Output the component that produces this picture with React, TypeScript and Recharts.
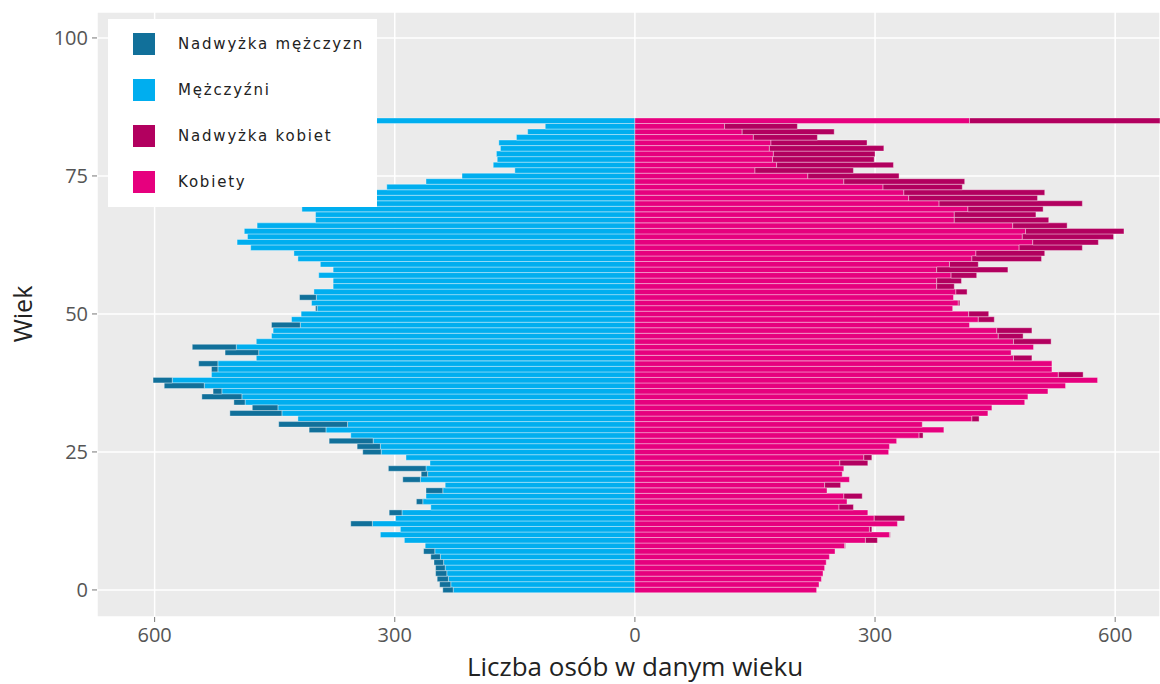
import { BarChart, Bar, XAxis, YAxis, CartesianGrid, Legend, Label } from "recharts"

// wiek 0..85 (ostatni słupek = 85+)
const AGES = [
  0, 1, 2, 3, 4, 5, 6, 7, 8, 9,
  10, 11, 12, 13, 14, 15, 16, 17, 18, 19,
  20, 21, 22, 23, 24, 25, 26, 27, 28, 29,
  30, 31, 32, 33, 34, 35, 36, 37, 38, 39,
  40, 41, 42, 43, 44, 45, 46, 47, 48, 49,
  50, 51, 52, 53, 54, 55, 56, 57, 58, 59,
  60, 61, 62, 63, 64, 65, 66, 67, 68, 69,
  70, 71, 72, 73, 74, 75, 76, 77, 78, 79,
  80, 81, 82, 83, 84, 85,
]

const MEN = [
  240, 244, 247, 249, 249, 251, 255, 264, 262, 288,
  318, 293, 355, 299, 307, 255, 273, 261, 261, 237,
  290, 267, 308, 256, 286, 340, 347, 382, 355, 407,
  445, 421, 506, 478, 501, 541, 527, 588, 602, 529,
  529, 545, 473, 512, 553, 473, 454, 452, 454, 429,
  417, 399, 404, 419, 401, 377, 377, 395, 377, 393,
  421, 426, 480, 497, 484, 488, 472, 399, 399, 416,
  380, 342, 336, 310, 261, 216, 150, 177, 172, 173,
  168, 170, 148, 134, 112, 418,
]

const WOMEN = [
  227, 230, 233, 235, 237, 239, 243, 250, 263, 303,
  319, 296, 328, 337, 291, 273, 265, 284, 240, 257,
  268, 259, 261, 291, 296, 317, 318, 327, 360, 386,
  359, 430, 441, 446, 487, 491, 516, 538, 578, 560,
  521, 521, 496, 470, 498, 520, 485, 496, 418, 449,
  442, 397, 406, 398, 415, 399, 408, 427, 466, 429,
  508, 512, 559, 579, 598, 611, 540, 517, 501, 510,
  559, 503, 512, 409, 412, 330, 273, 323, 299, 300,
  311, 290, 228, 249, 203, 700,
]

const X_TICKS = [-600, -300, 0, 300, 600]
const Y_TICKS = [0, 25, 50, 75, 100]

const COLORS = {
  menExtra: "#11709a",
  men: "#00aeef",
  womenExtra: "#b2005f",
  women: "#e6007e",
}

const LEGEND_ITEMS = [
  { name: "Nadwyżka mężczyzn", color: COLORS.menExtra },
  { name: "Mężczyźni", color: COLORS.men },
  { name: "Nadwyżka kobiet", color: COLORS.womenExtra },
  { name: "Kobiety", color: COLORS.women },
]

const data = AGES.map((age, i) => {
  const base = Math.min(MEN[i], WOMEN[i])
  return {
    age,
    menBase: -base,
    menExtra: -(MEN[i] - base),
    womenBase: base,
    womenExtra: WOMEN[i] - base,
  }
})

const tickStyle = { fill: "#555", fontSize: 20, fontFamily: "Open Sans" }

function LegendBox() {
  return (
    <div style={{ background: "#fff", width: 269, height: 188, position: "relative" }}>
      {LEGEND_ITEMS.map((item, i) => (
        <div
          key={item.name}
          style={{ position: "absolute", left: 25, top: 14 + i * 46, display: "flex", alignItems: "center" }}
        >
          <div style={{ width: 22, height: 22, background: item.color }} />
          <span
            style={{
              marginLeft: 23,
              fontFamily: "DejaVu Sans",
              fontSize: 15,
              letterSpacing: 1.8,
              color: "#222",
            }}
          >
            {item.name}
          </span>
        </div>
      ))}
    </div>
  )
}

export default function App() {
  return (
    <div style={{ position: "absolute", left: 0, top: 0, width: 1160, height: 684, background: "#fff" }}>
      <BarChart
        width={1160}
        height={684}
        data={data}
        layout="vertical"
        stackOffset="sign"
        barCategoryGap={0}
        margin={{ top: 12, right: 0, bottom: 0, left: 0 }}
      >
        <CartesianGrid fill="#ebebeb" stroke="#ffffff" strokeWidth={1.5} />
        <XAxis
          type="number"
          domain={[-672, 656]}
          ticks={X_TICKS}
          allowDataOverflow
          tickFormatter={(v) => String(Math.abs(v))}
          axisLine={false}
          tickLine={{ stroke: "#777" }}
          tickSize={5}
          tickMargin={6}
          height={67}
          tick={tickStyle}
        >
          <Label
            content={() => (
              <text x={635} y={676} textAnchor="middle" fontFamily="Open Sans" fontSize={26} fill="#222">
                Liczba osób w danym wieku
              </text>
            )}
          />
        </XAxis>
        <YAxis
          type="number"
          dataKey="age"
          domain={[-4.9, 104.7]}
          ticks={Y_TICKS}
          reversed
          allowDataOverflow
          axisLine={false}
          tickLine={{ stroke: "#777" }}
          tickSize={5}
          tickMargin={4}
          width={97}
          tick={tickStyle}
        >
          <Label
            content={() => (
              <text
                x={32}
                y={314}
                transform="rotate(-90, 32, 314)"
                textAnchor="middle"
                fontFamily="Open Sans"
                fontSize={25}
                fill="#222"
              >
                Wiek
              </text>
            )}
          />
        </YAxis>
        <Legend
          verticalAlign="middle"
          align="center"
          layout="horizontal"
          content={() => <LegendBox />}
          wrapperStyle={{ left: 108, top: 19, width: 269, height: 188 }}
        />
        <Bar dataKey="menBase" name="Mężczyźni" stackId="p" fill={COLORS.men} barSize={5.52}
          stroke="#ffffff" strokeWidth={0.6} strokeOpacity={0.6} isAnimationActive={false} />
        <Bar dataKey="menExtra" name="Nadwyżka mężczyzn" stackId="p" fill={COLORS.menExtra} barSize={5.52}
          stroke="#ffffff" strokeWidth={0.6} strokeOpacity={0.6} isAnimationActive={false} />
        <Bar dataKey="womenBase" name="Kobiety" stackId="p" fill={COLORS.women} barSize={5.52}
          stroke="#ffffff" strokeWidth={0.6} strokeOpacity={0.6} isAnimationActive={false} />
        <Bar dataKey="womenExtra" name="Nadwyżka kobiet" stackId="p" fill={COLORS.womenExtra} barSize={5.52}
          stroke="#ffffff" strokeWidth={0.6} strokeOpacity={0.6} isAnimationActive={false} />
      </BarChart>
    </div>
  )
}
